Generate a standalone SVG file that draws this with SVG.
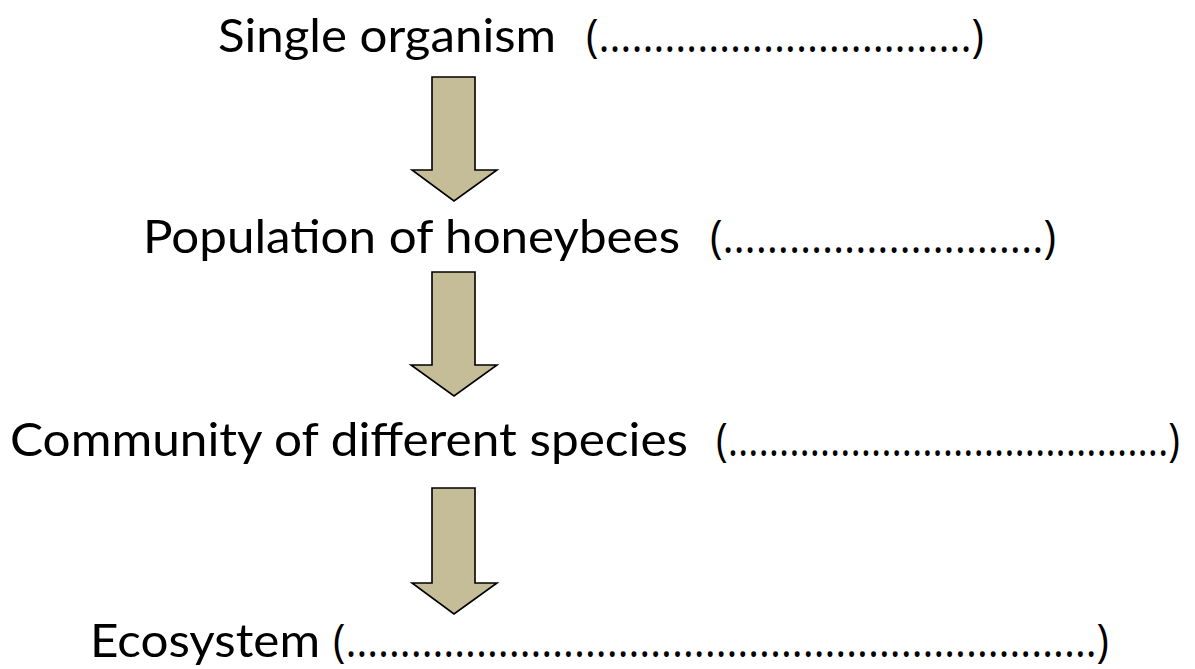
<svg xmlns="http://www.w3.org/2000/svg" width="1195" height="669" viewBox="0 0 1195 669">
<style>
.t{font-family:Lato,"Open Sans","Liberation Sans",sans-serif;font-size:47px;fill:#000}
.p{font-family:"Open Sans",Lato,sans-serif;font-size:45px;fill:#000}
.arr{fill:#C4BD97;stroke:#000;stroke-width:1.6;stroke-linejoin:miter}
</style>
<rect width="1195" height="669" fill="#fff"/>
<g id="node-organism">
<text class="t" x="218" y="52" textLength="338" lengthAdjust="spacingAndGlyphs">Single organism</text>
<text class="p" x="586" y="52" textLength="398" lengthAdjust="spacingAndGlyphs">(…………………………….)</text>
</g>
<g id="node-population">
<text class="t" x="143" y="253" textLength="537" lengthAdjust="spacingAndGlyphs">Population of honeybees</text>
<text class="p" x="710" y="253" textLength="346" lengthAdjust="spacingAndGlyphs">(………………………..)</text>
</g>
<g id="node-community">
<text class="t" x="10" y="456" textLength="678" lengthAdjust="spacingAndGlyphs">Community of different species</text>
<text class="p" x="716" y="456" textLength="464" lengthAdjust="spacingAndGlyphs">(…………………………………….)</text>
</g>
<g id="node-ecosystem">
<text class="t" x="90" y="657" textLength="230" lengthAdjust="spacingAndGlyphs">Ecosystem</text>
<text class="p" x="333" y="657" textLength="776" lengthAdjust="spacingAndGlyphs">(……………………………………………………………)</text>
</g>
<g id="connectors">
<path class="arr" d="M432,77 H475 V170 H497 L454,201 L412,170 H432 Z"/>
<path class="arr" d="M432,272 H475 V365 H497 L454,396 L411,365 H432 Z"/>
<path class="arr" d="M432,488 H475 V583 H497 L454,614 L412,583 H432 Z"/>
</g>
</svg>
